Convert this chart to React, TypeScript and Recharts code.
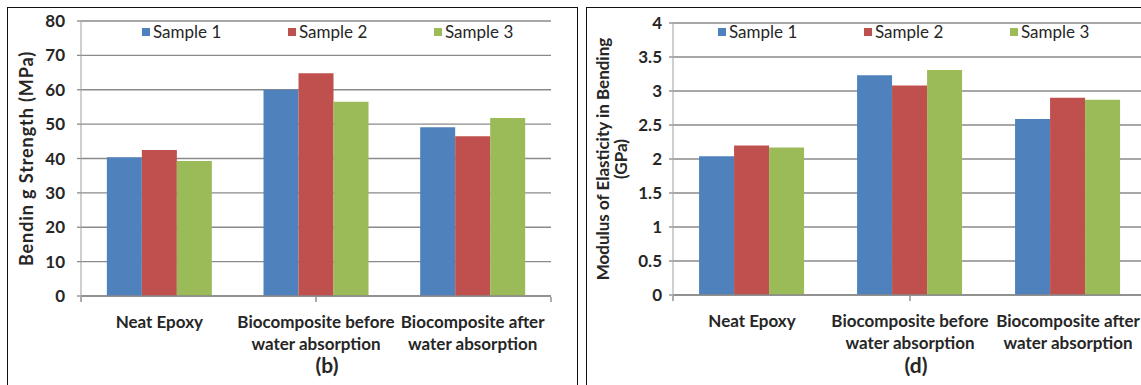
import React from "react";
import { BarChart, Bar, XAxis, YAxis, CartesianGrid, Legend, Label } from "recharts";

const categories = [
  "Neat Epoxy",
  "Biocomposite before water absorption",
  "Biocomposite after water absorption",
];
const categoryLines = [
  ["Neat Epoxy"],
  ["Biocomposite before", "water absorption"],
  ["Biocomposite after", "water absorption"],
];
const seriesNames = ["Sample 1", "Sample 2", "Sample 3"];
const COLORS = ["#4F81BD", "#C0504D", "#9BBB59"];

// (b) bending strength, MPa
const strength1 = [40.4, 60.0, 49.1];
const strength2 = [42.5, 64.8, 46.5];
const strength3 = [39.3, 56.5, 51.8];
const strengthTicks = [0, 10, 20, 30, 40, 50, 60, 70, 80];

// (d) modulus of elasticity in bending, GPa
const modulus1 = [2.04, 3.23, 2.59];
const modulus2 = [2.2, 3.08, 2.9];
const modulus3 = [2.17, 3.31, 2.87];
const modulusTicks = [0, 0.5, 1, 1.5, 2, 2.5, 3, 3.5, 4];
const boundaryTicks = [0, 1, 2, 3];

const FONT = "Lato, 'Open Sans', sans-serif";
const GRID = "#8a8a8a";
const TEXT = "#262626";

const buildRows = (a: number[], b: number[], c: number[]) =>
  categories.map((name, i) => ({ name, s1: a[i], s2: b[i], s3: c[i] }));

const strengthData = buildRows(strength1, strength2, strength3);
const modulusData = buildRows(modulus1, modulus2, modulus3);

const CategoryTick = (props: any) => {
  const { x, y, index } = props;
  const lines = categoryLines[index] || [];
  return (
    <text x={x} y={y} textAnchor="middle" fill={TEXT} fontSize={17} fontWeight={700} fontFamily={FONT}>
      {lines.map((l, i) => (
        <tspan key={i} x={x} dy={i === 0 ? 30 : 22}>
          {l}
        </tspan>
      ))}
    </text>
  );
};

const LegendRow = (props: any) => {
  const { payload } = props;
  return (
    <div style={{ display: "flex", fontFamily: FONT, fontSize: 17, color: TEXT }}>
      {(payload || []).map((p: any) => (
        <div key={p.value} style={{ width: 146, display: "flex", alignItems: "center" }}>
          <span style={{ width: 8, height: 8, background: p.color, marginRight: 3, display: "inline-block" }} />
          <span>{p.value}</span>
        </div>
      ))}
    </div>
  );
};

type PanelProps = {
  data: any[];
  ticks: number[];
  width: number;
  margin: { top: number; right: number; bottom: number; left: number };
  legendLeft: number;
  axisLabel: string[];
  labelX: number;
  tickGap: number;
  labelSize: number;
  labelSpacing: number;
};

const Panel = ({ data, ticks, width, margin, legendLeft, axisLabel, labelX, tickGap, labelSize, labelSpacing }: PanelProps) => (
  <BarChart
    width={width}
    height={385}
    data={data}
    margin={margin}
    barCategoryGap="16.5%"
    barGap={0}
    style={{ fontFamily: FONT }}
  >
    <CartesianGrid vertical={false} stroke={GRID} strokeWidth={1.4} />
    <XAxis
      dataKey="name"
      height={1}
      axisLine={{ stroke: GRID, strokeWidth: 1.4 }}
      tickLine={false}
      tickSize={0}
      interval={0}
      tick={(p: any) => <CategoryTick {...p} />}
    />
    <XAxis
      xAxisId="bounds"
      type="number"
      domain={[0, 3]}
      ticks={boundaryTicks}
      allowDataOverflow
      height={1}
      axisLine={false}
      tick={() => <g />}
      tickLine={{ stroke: GRID, strokeWidth: 1.4 }}
      tickSize={5}
    />
    <YAxis
      width={60}
      domain={[ticks[0], ticks[ticks.length - 1]]}
      ticks={ticks}
      interval={0}
      axisLine={{ stroke: "#b5b5b5", strokeWidth: 1.3 }}
      tickLine={{ stroke: GRID, strokeWidth: 1.3 }}
      tickSize={4}
      tickMargin={tickGap}
      tick={{ fill: TEXT, fontSize: 17, fontWeight: 700, fontFamily: FONT }}
    >
      <Label
        content={(p: any) => {
          const vb = p.viewBox || {};
          const cy = vb.y + vb.height / 2;
          return (
            <text
              transform={`translate(${labelX}, ${cy}) rotate(-90)`}
              textAnchor="middle"
              fill={TEXT}
              fontSize={labelSize}
              fontWeight={700}
              fontFamily={FONT}
              letterSpacing={labelSpacing}
            >
              {axisLabel.map((l, i) => (
                <tspan key={i} x={0} dy={i === 0 ? (axisLabel.length > 1 ? -3 : 6) : 18}>
                  {l}
                </tspan>
              ))}
            </text>
          );
        }}
      />
    </YAxis>
    <Legend
      layout="horizontal"
      verticalAlign="middle"
      align="center"
      wrapperStyle={{ top: 21, left: legendLeft, width: 450 }}
      content={<LegendRow />}
    />
    <Bar dataKey="s1" name={seriesNames[0]} fill={COLORS[0]} isAnimationActive={false} />
    <Bar dataKey="s2" name={seriesNames[1]} fill={COLORS[1]} isAnimationActive={false} />
    <Bar dataKey="s3" name={seriesNames[2]} fill={COLORS[2]} isAnimationActive={false} />
  </BarChart>
);

const captionStyle: React.CSSProperties = {
  position: "absolute",
  top: 352,
  fontFamily: FONT,
  fontWeight: 700,
  fontSize: 21,
  color: TEXT,
  transform: "translateX(-50%)",
};

const App = () => {
  return (
    <div style={{ position: "absolute", left: 0, top: 0, width: 1141, height: 385, background: "#fff", overflow: "hidden" }}>
      {/* left panel (b) */}
      <div style={{ position: "absolute", left: 7, top: 7, width: 569, height: 400, border: "1.5px solid #111" }} />
      <div style={{ position: "absolute", left: 0, top: 0 }}>
        <Panel
          data={strengthData}
          ticks={strengthTicks}
          width={580}
          margin={{ top: 21, right: 29, bottom: 87, left: 21 }}
          legendLeft={142}
          axisLabel={["Bendin g Strength (MPa)"]}
          labelX={27}
          tickGap={12}
          labelSize={18}
          labelSpacing={0.9}
        />
      </div>
      <div style={{ ...captionStyle, left: 327 }}>(b)</div>

      {/* right panel (d) */}
      <div style={{ position: "absolute", left: 586, top: 7, width: 600, height: 400, border: "1.5px solid #111" }} />
      <div style={{ position: "absolute", left: 585, top: 0, width: 556, height: 385, overflow: "hidden" }}>
        <Panel
          data={modulusData}
          ticks={modulusTicks}
          width={600}
          margin={{ top: 23, right: 38, bottom: 88, left: 28 }}
          legendLeft={133}
          axisLabel={["Modulus of Elasticity in Bending", "(GPa)"]}
          labelX={27}
          tickGap={7}
          labelSize={17}
          labelSpacing={0}
        />
      </div>
      <div style={{ ...captionStyle, left: 916 }}>(d)</div>
    </div>
  );
};

export default App;
